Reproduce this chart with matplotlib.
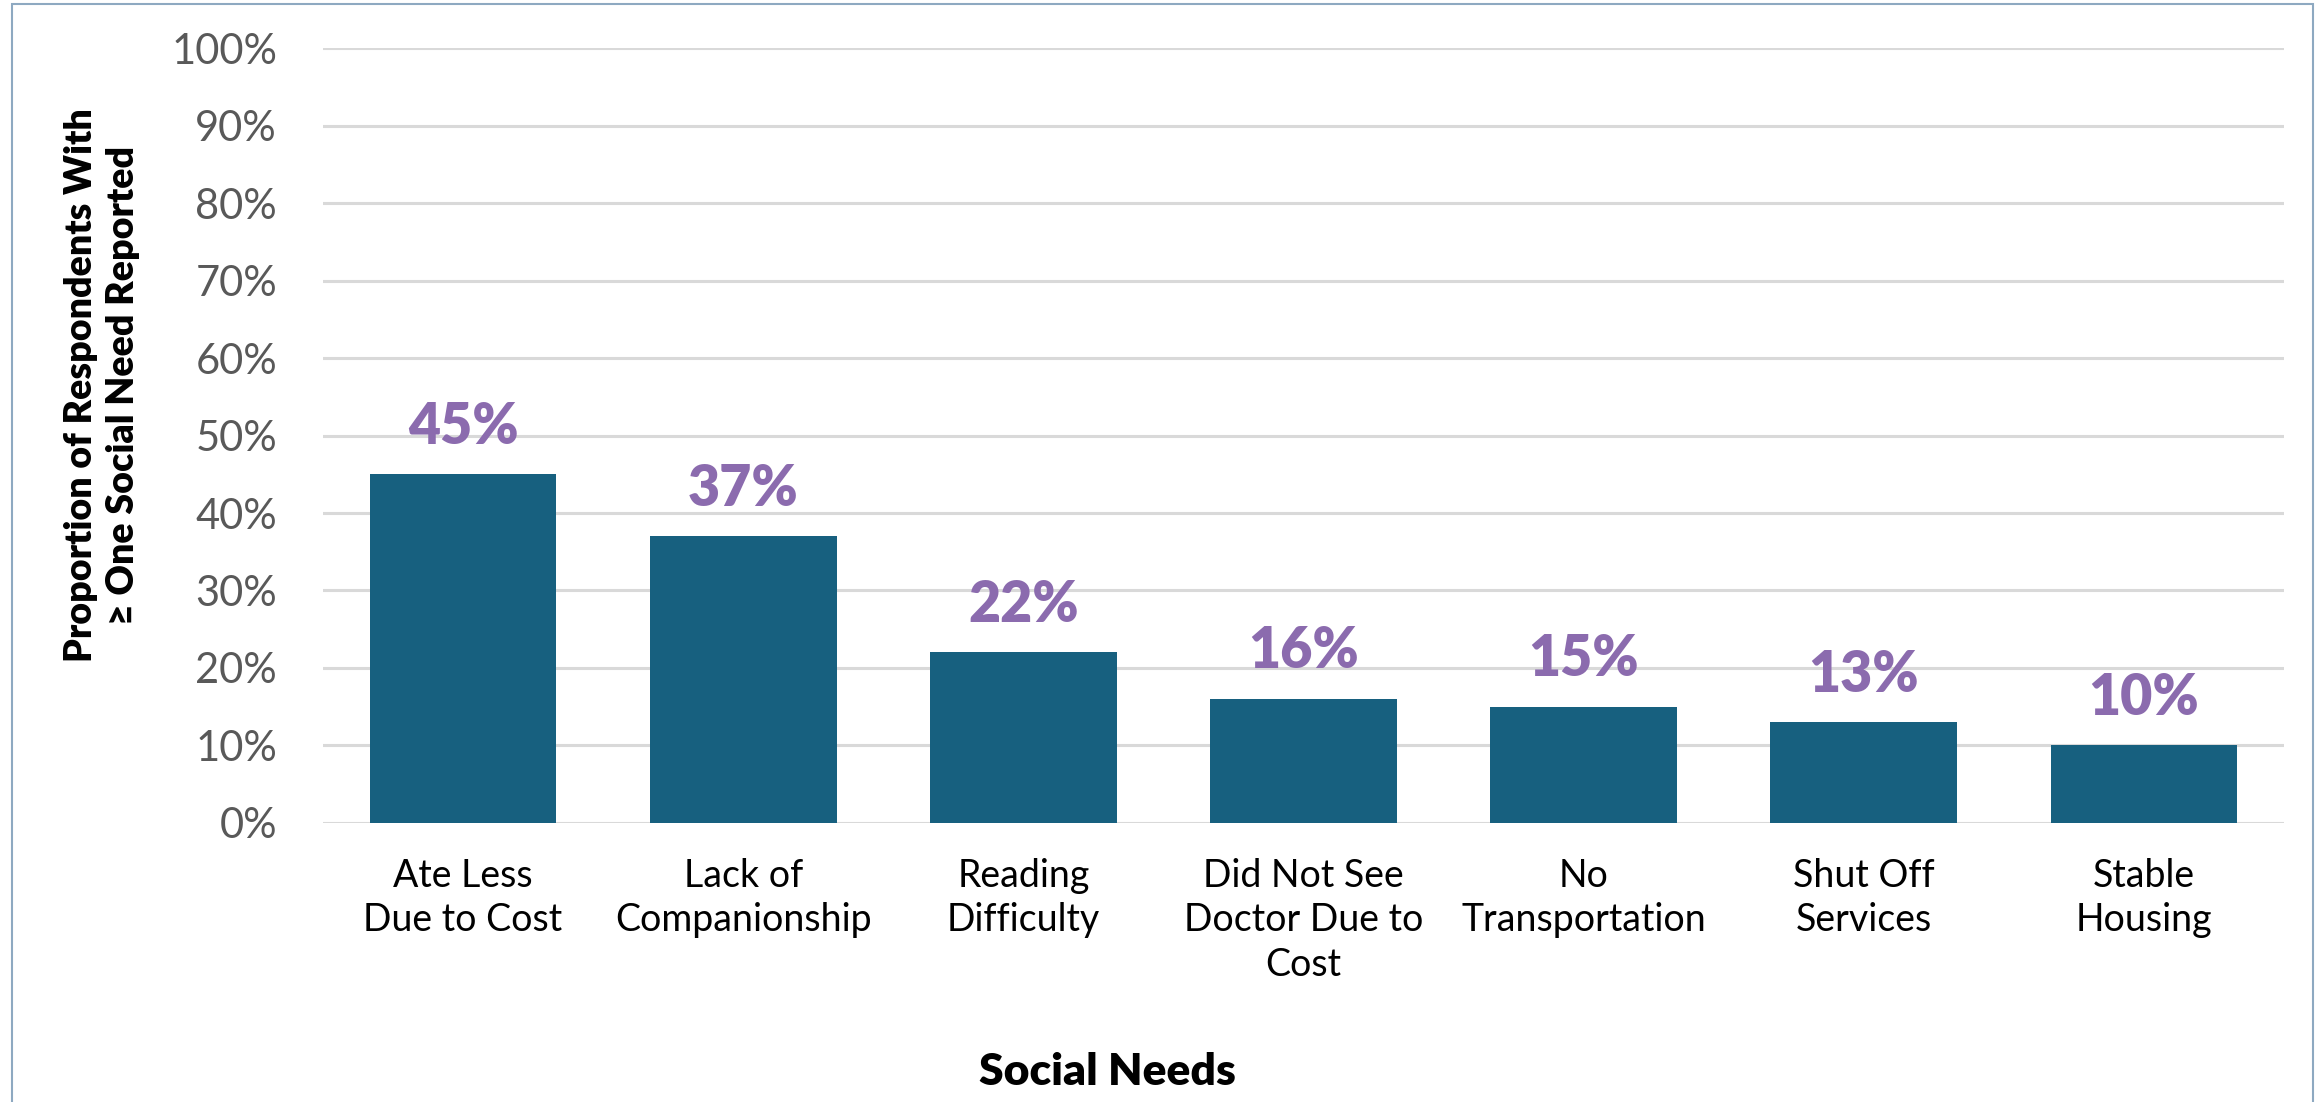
import matplotlib.pyplot as plt
from matplotlib.patches import Rectangle

# Share of respondents reporting each social need
needs = ["Ate Less\nDue to Cost", "Lack of\nCompanionship", "Reading\nDifficulty",
         "Did Not See\nDoctor Due to\nCost", "No\nTransportation", "Shut Off\nServices",
         "Stable\nHousing"]
shares = [45, 37, 22, 16, 15, 13, 10]
yticks = [0, 10, 20, 30, 40, 50, 60, 70, 80, 90, 100]

bar_color = "#17607F"
label_color = "#8B6BAE"
plt.rcParams["font.family"] = ["Lato", "DejaVu Sans"]

fig = plt.figure(figsize=(23.2, 11.02), dpi=100)
ax = fig.add_axes([0.1392, 0.2532, 0.8453, 0.7032])

x = range(len(needs))
bars = ax.bar(x, shares, width=0.667, color=bar_color, zorder=3)

# Value labels above each bar
for xi, v in zip(x, shares):
    ax.annotate(f"{v}%", (xi, v), xytext=(0, 22), textcoords="offset points",
                ha="center", va="baseline", fontsize=40, fontweight="heavy",
                color=label_color)

ax.set_xlim(-0.5, len(needs) - 0.5)
ax.set_ylim(0, 100)
ax.set_yticks(yticks)
ax.set_yticklabels([f"{t}%" for t in yticks], fontsize=30, color="#595959")
ax.set_xticks(list(x))
ax.set_xticklabels(needs, fontsize=27, color="black", linespacing=1.3)
ax.tick_params(axis="y", length=0, pad=33)
ax.tick_params(axis="x", length=0, pad=25)

ax.grid(axis="y", color="#D9D9D9", linewidth=2.2, zorder=0)
for s in ax.spines.values():
    s.set_visible(False)

fig.text(1107 / 2320, 1 - 1085 / 1102, "Social Needs", ha="center", va="baseline",
         fontsize=32, fontweight="heavy")
fig.text(102 / 2320, 1 - 385 / 1102,
         "Proportion of Respondents With\n\u2265 One Social Need Reported",
         ha="center", va="center", rotation=90, fontsize=27, fontweight="heavy",
         linespacing=1.25)

# Thin frame around the chart area
fig.patches.append(Rectangle((12 / 2320, -0.05), (2313 - 12) / 2320, 1.05 - 4 / 1102,
                             transform=fig.transFigure, fill=False,
                             edgecolor="#8EA9C1", linewidth=1.5))

fig.savefig("out.png", dpi=100)
